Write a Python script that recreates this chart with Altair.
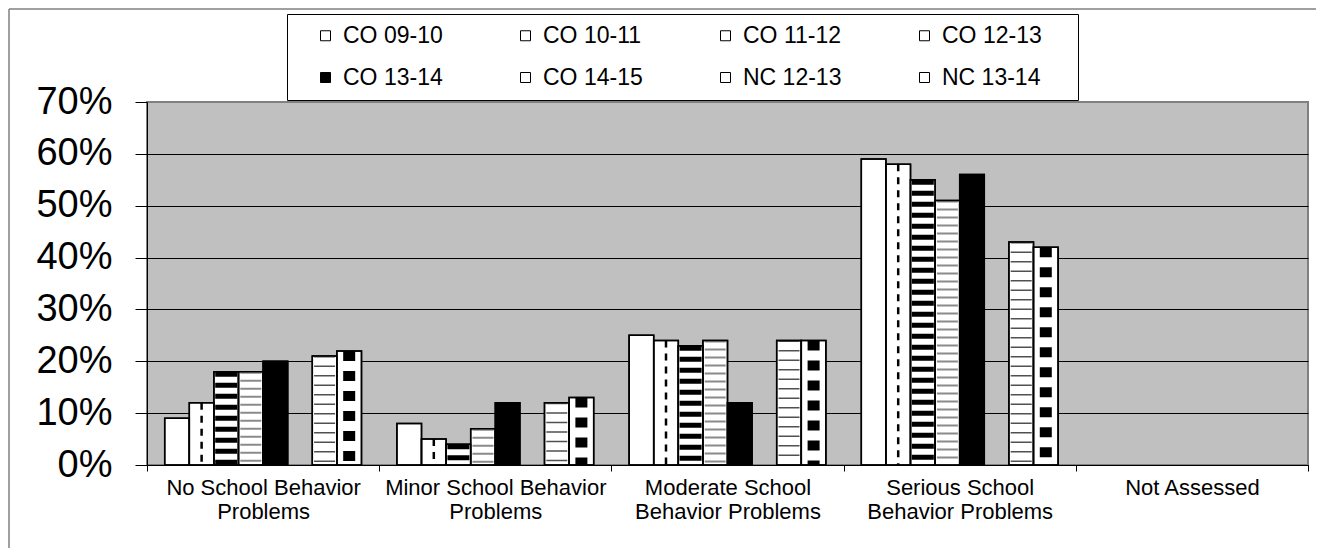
import altair as alt
import pandas as pd

FONT = "Liberation Sans, Arial, sans-serif"

CATEGORIES = [
    "No School Behavior|Problems",
    "Minor School Behavior|Problems",
    "Moderate School|Behavior Problems",
    "Serious School|Behavior Problems",
    "Not Assessed",
]
SERIES = ["CO 09-10", "CO 10-11", "CO 11-12", "CO 12-13",
          "CO 13-14", "CO 14-15", "NC 12-13", "NC 13-14"]

CO_09_10 = [9, 8, 25, 59, 0]
CO_10_11 = [12, 5, 24, 58, 0]
CO_11_12 = [18, 4, 23, 55, 0]
CO_12_13 = [18, 7, 24, 51, 0]
CO_13_14 = [20, 12, 12, 56, 0]
CO_14_15 = [0, 0, 0, 0, 0]
NC_12_13 = [21, 12, 24, 43, 0]
NC_13_14 = [22, 13, 24, 42, 0]

Y_TICKS = [0, 10, 20, 30, 40, 50, 60, 70]

SERIES_VALUES = [CO_09_10, CO_10_11, CO_11_12, CO_12_13,
                 CO_13_14, CO_14_15, NC_12_13, NC_13_14]
FILLS = ["white", "white", "white", "white", "black", "white", "white", "white"]

rows = []
for s, vals in zip(SERIES, SERIES_VALUES):
    for c, v in zip(CATEGORIES, vals):
        rows.append({"category": c, "series": s, "value": v})
df = pd.DataFrame(rows)

x_enc = alt.X(
    "category:N", sort=CATEGORIES,
    scale=alt.Scale(domain=CATEGORIES, paddingInner=0, paddingOuter=0),
    axis=alt.Axis(
        title=None, labelExpr="split(datum.label, '|')", labelFontSize=22,
        labelFont=FONT, labelColor="black", labelAngle=0, tickBand="extent",
        tickSize=6, tickColor="black", domainColor="black", labelPadding=6,
        labelLineHeight=24, labelLimit=400, grid=False,
    ),
)
xo_enc = alt.XOffset("series:N", sort=SERIES,
                     scale=alt.Scale(domain=SERIES, paddingInner=0, paddingOuter=0.72))
y_enc = alt.Y(
    "value:Q",
    scale=alt.Scale(domain=[0, 70], nice=False),
    axis=alt.Axis(
        title=None, values=Y_TICKS, labelExpr="datum.value + '%'",
        labelFontSize=38, labelFont=FONT, labelColor="black", tickSize=12,
        tickColor="black", labelPadding=23, domainColor="black", grid=True,
        gridColor=alt.condition("datum.value == 70", alt.value("#808080"), alt.value("black")),
        gridWidth=1,
    ),
)

base = alt.Chart(df).encode(x=x_enc, xOffset=xo_enc, y=y_enc)

fill_layer = base.transform_filter("datum.value > 0").mark_bar(
    stroke="black", strokeWidth=1.5, opacity=1
).encode(
    color=alt.Color(
        "series:N", sort=SERIES,
        scale=alt.Scale(domain=SERIES, range=FILLS),
        legend=alt.Legend(
            orient="none", legendX=140, legendY=-88, direction="horizontal",
            columns=4, title=" ", titleOrient="right", titlePadding=26,
            titleFontSize=1, symbolType="square", symbolSize=100,
            symbolStrokeColor="black", symbolStrokeWidth=1, symbolOffset=17,
            labelOffset=6, labelFontSize=23, labelFont=FONT, labelColor="black",
            columnPadding=54, rowPadding=18, padding=10, strokeColor="black",
            fillColor="white", labelLimit=300,
        ),
    )
)


def pattern(series, **kw):
    return base.transform_filter(
        f"datum.series == '{series}' && datum.value > 0"
    ).mark_rule(**kw).encode(y2=alt.datum(0))


p_co1011 = pattern("CO 10-11", color="black", strokeWidth=2.5, strokeDash=[7, 6])
p_co1112 = pattern("CO 11-12", color="black", strokeWidth=22, strokeDash=[5, 6])
p_co1213 = pattern("CO 12-13", color="#8a8a8a", strokeWidth=21, strokeDash=[2, 6])
p_nc1213 = pattern("NC 12-13", color="#505050", strokeWidth=21, strokeDash=[1.5, 8])
p_nc1314 = pattern("NC 13-14", color="black", strokeWidth=12, strokeDash=[10, 10])

outline = base.transform_filter("datum.value > 0").mark_bar(
    fillOpacity=0, stroke="black", strokeWidth=1.5
)

frame_df = pd.DataFrame({"k": [0]})
left_border = alt.Chart(frame_df).mark_rule(color="#404040", strokeWidth=1).encode(
    x=alt.value(-138), y=alt.value(-93), y2=alt.value(446)
)
top_border = alt.Chart(frame_df).mark_rule(color="#808080", strokeWidth=1.5).encode(
    x=alt.value(-138), x2=alt.value(1169), y=alt.value(-93)
)

chart = alt.layer(
    fill_layer, p_co1011, p_co1112, p_co1213, p_nc1213, p_nc1314, outline,
    left_border, top_border,
).properties(
    width=1161, height=363,
    autosize=alt.AutoSizeParams(type="none"),
    padding={"left": 139, "top": 94, "right": 8, "bottom": 83},
    background="white",
).configure_view(
    fill="#C0C0C0", stroke="#808080", strokeWidth=2
)

chart.save("out.html", embed_options={"renderer": "svg", "actions": False})
